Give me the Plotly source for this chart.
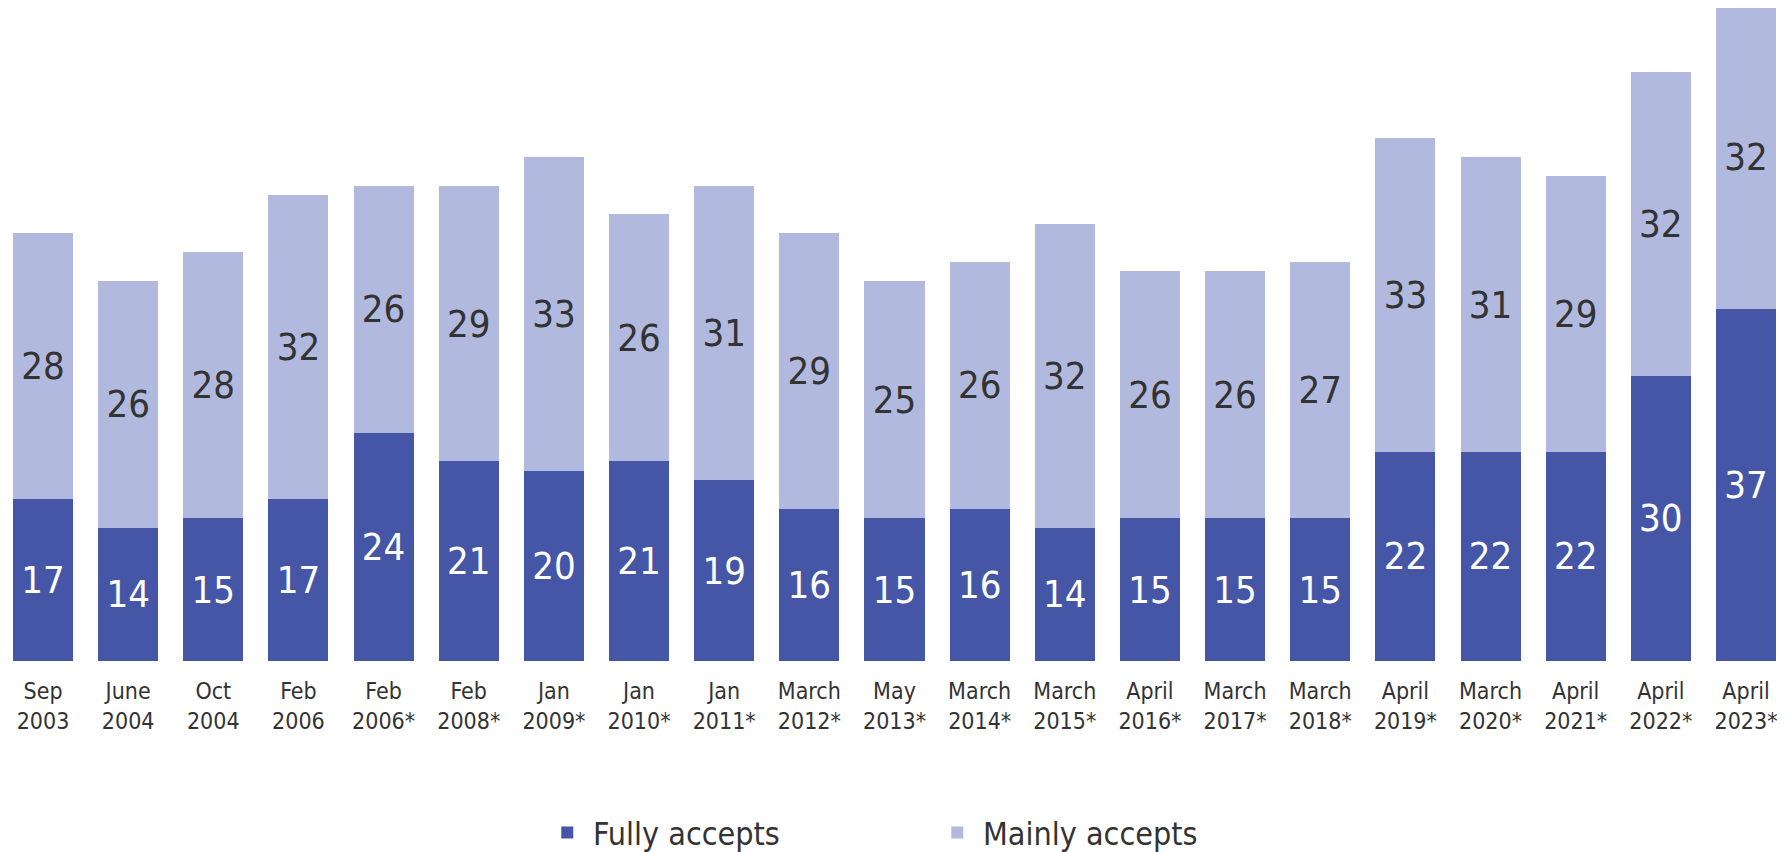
import plotly.graph_objects as go

categories = ["Sep<br>2003", "June<br>2004", "Oct<br>2004", "Feb<br>2006", "Feb<br>2006*",
              "Feb<br>2008*", "Jan<br>2009*", "Jan<br>2010*", "Jan<br>2011*", "March<br>2012*",
              "May<br>2013*", "March<br>2014*", "March<br>2015*", "April<br>2016*", "March<br>2017*",
              "March<br>2018*", "April<br>2019*", "March<br>2020*", "April<br>2021*", "April<br>2022*",
              "April<br>2023*"]
fully_accepts = [17, 14, 15, 17, 24, 21, 20, 21, 19, 16, 15, 16, 14, 15, 15, 15, 22, 22, 22, 30, 37]
mainly_accepts = [28, 26, 28, 32, 26, 29, 33, 26, 31, 29, 25, 26, 32, 26, 26, 27, 33, 31, 29, 32, 32]

FONT = "DejaVu Sans Condensed, DejaVu Sans, Verdana, sans-serif"
DARK = "#4656A6"
LIGHT = "#B1B9DF"
TXT = "#333333"

fig = go.Figure()
fig.add_trace(go.Bar(
    x=categories, y=fully_accepts, name="\u2009Fully accepts",
    marker=dict(color=DARK, line=dict(width=0)),
    text=fully_accepts, textposition="inside", insidetextanchor="middle",
    textangle=0, constraintext="none",
    textfont=dict(family=FONT, size=38, color="white"),
))
fig.add_trace(go.Bar(
    x=categories, y=mainly_accepts, name="\u2009Mainly accepts",
    marker=dict(color=LIGHT, line=dict(width=0)),
    text=mainly_accepts, textposition="inside", insidetextanchor="middle",
    textangle=0, constraintext="none",
    textfont=dict(family=FONT, size=38, color=TXT),
))

fig.update_layout(
    width=1778, height=844,
    barmode="stack", bargap=0.295,
    margin=dict(l=0, r=0, t=0, b=191),
    plot_bgcolor="white", paper_bgcolor="white",
    font=dict(family=FONT, color=TXT),
    showlegend=True,
    legend=dict(
        orientation="h", xref="container", yref="container",
        x=0.3033, xanchor="left", y=0.023, yanchor="middle",
        font=dict(family=FONT, size=32, color=TXT),
        entrywidth=345, traceorder="normal",
        bgcolor="rgba(0,0,0,0)",
    ),
    xaxis=dict(
        range=[-0.411, 20.47],
        showgrid=False, zeroline=False, showline=False,
        ticks="outside", ticklen=9, tickcolor="rgba(0,0,0,0)",
        tickfont=dict(family=FONT, size=23, color=TXT),
        tickangle=0,
    ),
    yaxis=dict(
        range=[0, 68.7], visible=False, showgrid=False, zeroline=False,
    ),
)

fig.write_html("out.html")
